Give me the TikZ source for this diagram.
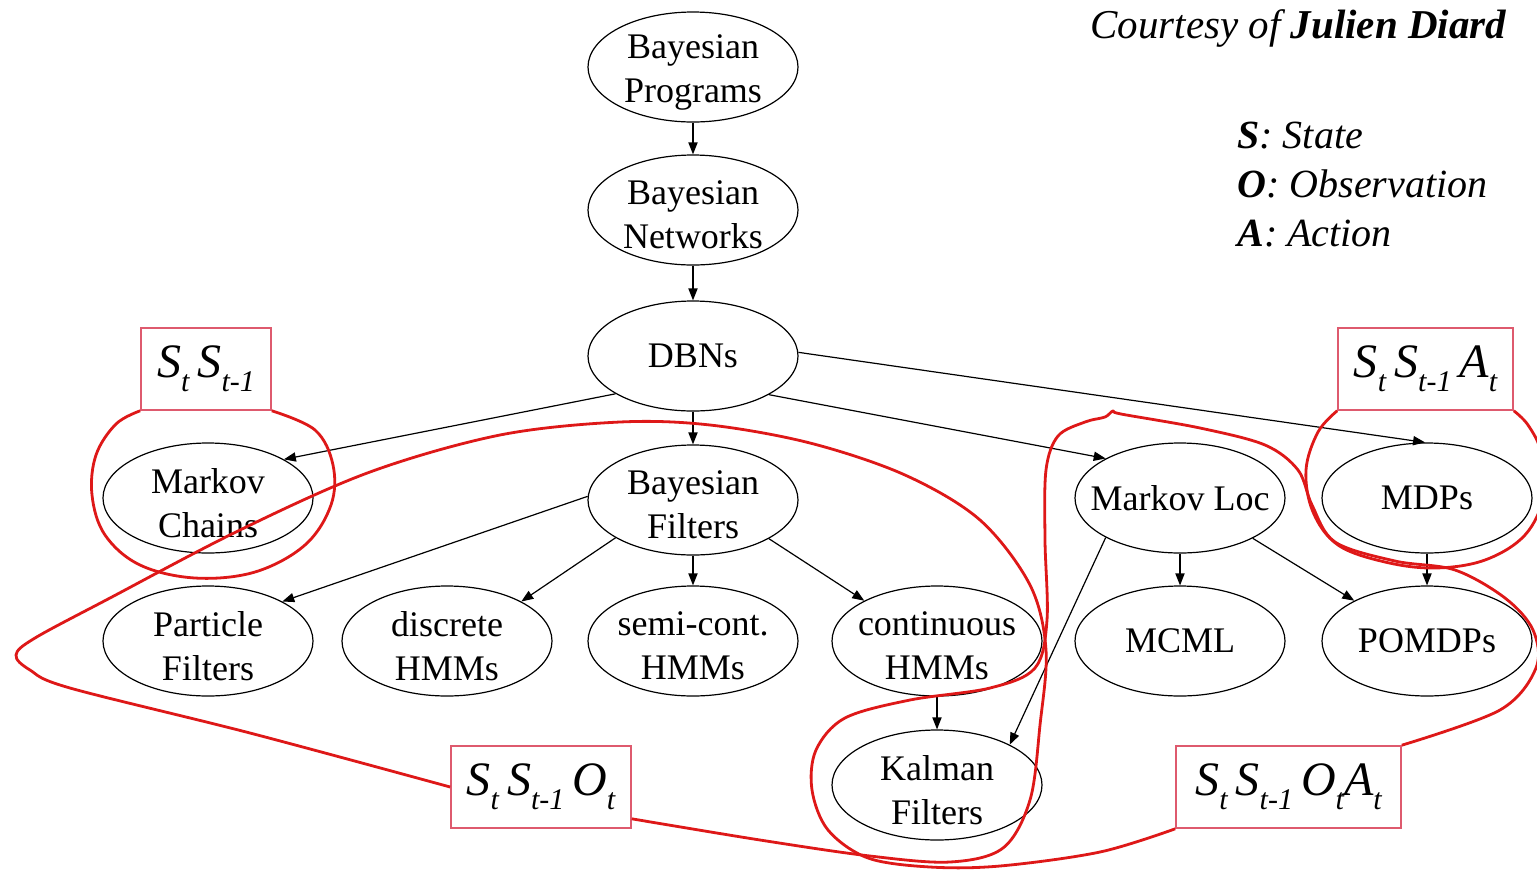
\documentclass[tikz,border=0pt]{standalone}
\usepackage{fontspec}
\setmainfont{Liberation Serif}
\usetikzlibrary{shapes.geometric,arrows.meta,calc}
\definecolor{curvered}{RGB}{222,24,24}
\definecolor{boxred}{RGB}{222,90,110}
% subscript used in the variable-set boxes
\newcommand\sbs[1]{\raisebox{-0.3em}{\fontsize{15pt}{15pt}\selectfont #1}}

\begin{document}
\begin{tikzpicture}[x=0.5pt,y=-0.5pt,
  ell/.style={ellipse, draw, line width=0.6pt, minimum width=105pt, minimum height=55pt, inner sep=0pt},
  lbl/.style={align=center, font=\fontsize{18pt}{22pt}\selectfont, inner sep=0pt},
  lbltwo/.style={lbl, yshift=-2.5pt},
  edge/.style={-{Triangle[length=6pt,width=4.6pt]}, line width=0.6pt},
  setbox/.style={draw=boxred, line width=0.8pt, fill=white, minimum height=41pt, inner sep=0pt,
                 font=\fontsize{24pt}{24pt}\selectfont\itshape},
  hull/.style={draw=curvered, line width=1.4pt, line join=round},
  legend/.style={anchor=base west, inner sep=0pt, font=\fontsize{20pt}{24pt}\selectfont\itshape}]
\useasboundingbox[fill=white] (0,0) rectangle (1537,869);

% model hierarchy
\node[ell, label={[lbltwo]center:Bayesian\\Programs}] (bp)   at (693,67)  {};
\node[ell, label={[lbltwo]center:Bayesian\\Networks}] (bn)   at (693,210) {};
\node[ell, label={[lbl]center:DBNs}]                  (dbn)  at (693,356) {};
\node[ell, label={[lbltwo]center:Markov\\Chains}]     (mc)   at (208,498) {};
\node[ell, label={[lbltwo]center:Bayesian\\Filters}]  (bf)   at (693,500) {};
\node[ell, label={[lbl]center:Markov Loc}]            (ml)   at (1180,498) {};
\node[ell, label={[lbl]center:MDPs}]                  (mdp)  at (1427,498) {};
\node[ell, label={[lbltwo]center:Particle\\Filters}]  (pf)   at (208,641) {};
\node[ell, label={[lbltwo]center:discrete\\HMMs}]     (dh)   at (447,641) {};
\node[ell, label={[lbltwo]center:semi-cont.\\HMMs}]   (sc)   at (693,641) {};
\node[ell, label={[lbltwo]center:continuous\\HMMs}]   (ch)   at (937,641) {};
\node[ell, label={[lbl]center:MCML}]                  (mcml) at (1180,641) {};
\node[ell, label={[lbl]center:POMDPs}]                (pom)  at (1427,641) {};
\node[ell, label={[lbltwo]center:Kalman\\Filters}]    (kf)   at (937,785) {};

% specialisation edges
\draw[edge] (bp.270)  -- (bn.90);
\draw[edge] (bn.270)  -- (dbn.90);
\draw[edge] (dbn.206.6) -- (mc.27.5);
\draw[edge] (dbn.270) -- (bf.90);
\draw[edge] (dbn.333.7) -- (ml.152);
\draw[edge] (dbn.2)   -- (mdp.92);
\draw[edge] (bf.178)  -- (pf.28);
\draw[edge] (bf.206.6) -- (dh.28.7);
\draw[edge] (bf.270)  -- (sc.90);
\draw[edge] (bf.333.4) -- (ch.151);
\draw[edge] (ch.270)  -- (kf.90);
\draw[edge] (ml.208.6) -- (kf.29.5);
\draw[edge] (ml.270)  -- (mcml.90);
\draw[edge] (ml.331)  -- (pom.151);
\draw[edge] (mdp.270) -- (pom.90);

% variable-set boxes
\node[setbox, minimum width=65pt]    (b1) at (206,369)    {S\sbs{t}\,S\sbs{t-1}};
\node[setbox, minimum width=87.5pt]  (b2) at (1425.5,369) {S\sbs{t}\,S\sbs{t-1}\,A\sbs{t}};
\node[setbox, minimum width=90pt]    (b3) at (541,787)    {S\sbs{t}\,S\sbs{t-1}\,O\sbs{t}};
\node[setbox, minimum width=112.5pt] (b4) at (1288.5,787) {S\sbs{t}\,S\sbs{t-1}\,O\sbs{t}A\sbs{t}};

% hulls grouping the models of each variable set
\draw[hull] plot[smooth, tension=0.6] coordinates {(b1.south west) (116,424) (96,455) (92,495) (105,535)
  (140,565) (195,578) (255,572) (305,545) (331,505) (333,465) (315,430) (b1.south east)};

\draw[hull] plot[smooth, tension=0.6] coordinates {(b2.south west) (1318,432) (1306,470) (1313,512)
  (1338,545) (1385,562) (1435,568) (1485,560) (1525,535) (1544,495) (1541,452) (1528,425) (b2.south east)};

\draw[hull] plot[smooth, tension=0.55] coordinates {(b3.west) (250,733) (70,688) (30,670) (16,655)
  (35,638) (110,598) (240,530) (370,472) (500,435) (620,422) (710,425) (810,443) (905,475) (980,520)
  (1030,585) (1046,650) (1040,725) (1030,800) (1003,848) (950,862) (870,856) (760,840)
  ($(b3.south east)+(0,-10)$)};

\draw[hull] plot[smooth, tension=0.55] coordinates {(b4.south west) (1100,852) (1000,866) (930,867)
  (868,858) (828,830) (812,790) (816,750) (845,718) (910,700) (990,688) (1035,668) (1047,620)
  (1045,540) (1046,470) (1058,436) (1085,422) (1105,417) (1113,411) (1121,414) (1200,428)
  (1265,445) (1298,470) (1312,505) (1335,542) (1395,561) (1455,570) (1505,598) (1533,630)
  (1536,668) (1500,710) (b4.north east)};

% credits and legend
\node[anchor=base west, inner sep=0pt, font=\fontsize{20.5pt}{24pt}\selectfont\itshape] (credit)
  at (1090,38) {Courtesy of \textbf{Julien Diard}};
\node[legend] (lgs) at (1237,148) {\textbf{S}: State};
\node[legend] (lgo) at (1237,197) {\textbf{O}: Observation};
\node[legend] (lga) at (1237,246) {\textbf{A}: Action};
\end{tikzpicture}
\end{document}
